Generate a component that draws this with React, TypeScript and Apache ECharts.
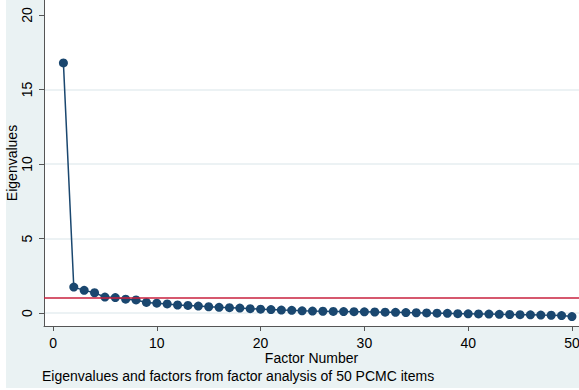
import React, { useEffect, useRef } from "react";
import * as echarts from "echarts";

const factorNumbers: number[] = Array.from({ length: 50 }, (_, i) => i + 1);
const eigenvalues: number[] = [
  16.78, 1.74, 1.52, 1.36, 1.07, 1.04, 0.93, 0.88, 0.71, 0.66,
  0.61, 0.54, 0.51, 0.47, 0.42, 0.38, 0.36, 0.33, 0.29, 0.26,
  0.23, 0.2, 0.18, 0.15, 0.13, 0.12, 0.11, 0.1, 0.09, 0.08,
  0.07, 0.06, 0.05, 0.03, 0.02, 0.01, -0.01, -0.02, -0.04, -0.05,
  -0.06, -0.07, -0.09, -0.1, -0.11, -0.12, -0.14, -0.15, -0.17, -0.24,
];
const yTicks: number[] = [0, 5, 10, 15, 20];
const yGridLines: number[] = [0, 5, 10, 15];
const xTicks: number[] = [0, 10, 20, 30, 40, 50];
const referenceLine = 1;
const caption = "Eigenvalues and factors from factor analysis of 50 PCMC items";

const FONT = "Liberation Sans, Arial, Helvetica, sans-serif";
const NAVY = "#1a476f";

export default function App() {
  const ref = useRef<HTMLDivElement>(null);
  useEffect(() => {
    if (!ref.current) return;
    const chart = echarts.init(ref.current, null, { renderer: "svg" });
    chart.setOption({
      animation: false,
      backgroundColor: "#eaf2f3",
      textStyle: { fontFamily: FONT },
      grid: {
        left: 44,
        top: 0,
        right: 0,
        bottom: 64,
        containLabel: false,
        outerBoundsMode: "none",
        show: true,
        backgroundColor: "#ffffff",
        borderWidth: 0,
      },
      graphic: [
        { type: "rect", shape: { x: 0, y: 0, width: 6, height: 390 }, style: { fill: "#ffffff" }, z: -10 },
        { type: "rect", shape: { x: 0, y: 388, width: 579, height: 2 }, style: { fill: "#ffffff" }, z: -10 },
        {
          type: "text",
          left: 42,
          top: 369,
          style: { text: caption, fontSize: 14, fill: "#000", fontFamily: FONT },
        },
      ],
      xAxis: {
        type: "value",
        min: -0.87,
        max: 50.68,
        name: "Factor Number",
        nameLocation: "middle",
        nameGap: 25,
        nameMoveOverlap: false,
        nameTextStyle: { fontSize: 14, color: "#000", fontFamily: FONT },
        axisLine: { show: true, onZero: false, lineStyle: { color: "#555", width: 1 } },
        axisTick: { show: true, length: 5, customValues: xTicks, lineStyle: { color: "#555" } },
        axisLabel: { customValues: xTicks, fontSize: 14, color: "#000", margin: 10, fontFamily: FONT },
        splitLine: { show: false },
      },
      yAxis: {
        type: "value",
        min: -0.87,
        max: 21.0,
        name: "Eigenvalues",
        nameLocation: "middle",
        nameRotate: 90,
        nameGap: 25,
        nameMoveOverlap: false,
        nameTextStyle: { fontSize: 14, color: "#000", fontFamily: FONT },
        axisLine: { show: true, onZero: false, lineStyle: { color: "#555", width: 1 } },
        axisTick: { show: true, length: 5, customValues: yTicks, lineStyle: { color: "#555" } },
        axisLabel: { customValues: yTicks, rotate: 90, fontSize: 14, color: "#000", margin: 10, fontFamily: FONT },
        splitLine: { show: false },
      },
      series: [
        {
          type: "line",
          silent: true,
          symbol: "none",
          data: [],
          markLine: {
            silent: true,
            symbol: "none",
            label: { show: false },
            lineStyle: { color: "#e6eef0", width: 1.5, type: "solid" },
            data: yGridLines.map((v) => ({ yAxis: v })),
            z: 0,
          },
          z: 0,
        },
        {
          type: "line",
          data: factorNumbers.map((f, i) => [f, eigenvalues[i]]),
          symbol: "circle",
          symbolSize: 9,
          showAllSymbol: true,
          lineStyle: { color: NAVY, width: 1.5 },
          itemStyle: { color: NAVY },
          markLine: {
            silent: true,
            symbol: "none",
            label: { show: false },
            lineStyle: { color: "#c8203e", width: 1.5, type: "solid" },
            data: [{ yAxis: referenceLine }],
          },
          z: 3,
        },
      ],
    });
    return () => chart.dispose();
  }, []);
  return (
    <div
      ref={ref}
      style={{ position: "absolute", left: 0, top: 0, width: 579, height: 390 }}
    />
  );
}
